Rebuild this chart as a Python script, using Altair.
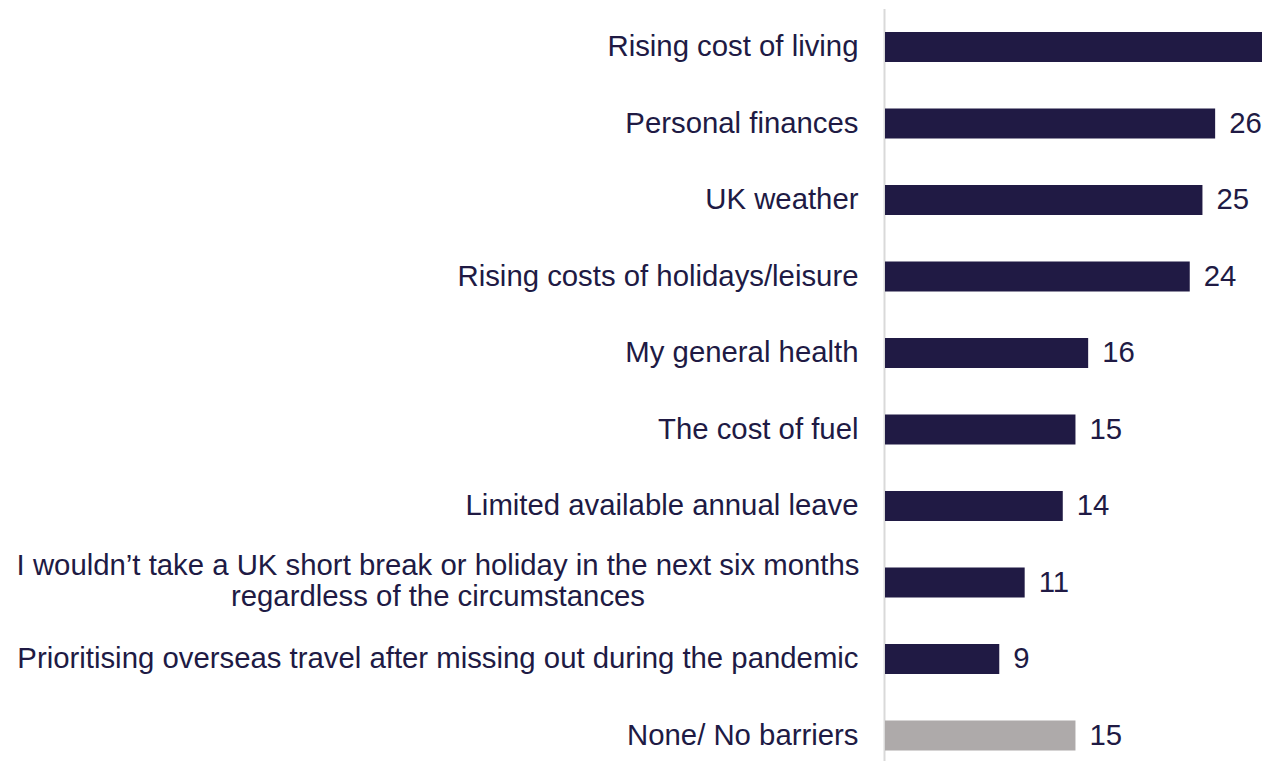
import altair as alt
import pandas as pd

categories = [
    "Rising cost of living",
    "Personal finances",
    "UK weather",
    "Rising costs of holidays/leisure",
    "My general health",
    "The cost of fuel",
    "Limited available annual leave",
    "I wouldn’t take a UK short break or holiday in the next six months|regardless of the circumstances",
    "Prioritising overseas travel after missing out during the pandemic",
    "None/ No barriers",
]
values = [32, 26, 25, 24, 16, 15, 14, 11, 9, 15]

df = pd.DataFrame({"category": categories, "value": values})

NAVY = "#201a44"
GREY = "#aeaaaa"
FONT = "Liberation Sans"
W, H = 377, 752
XMAX = 29.69

multi_test = "indexof(datum.value, '|') >= 0"

y_enc = alt.Y(
    "category:N",
    sort=categories,
    title=None,
    scale=alt.Scale(paddingInner=0.608, paddingOuter=0.219, align=0.687, round=False),
    axis=alt.Axis(
        domain=False,
        ticks=False,
        tickSize=0,
        grid=False,
        labelFont=FONT,
        labelFontSize=29.33,
        labelColor=NAVY,
        labelLimit=2000,
        labelLineHeight=31,
        labelExpr="split(datum.label, '|')",
        labelAlign={"condition": {"test": multi_test, "value": "center"}, "value": "right"},
        labelPadding={"condition": {"test": multi_test, "value": 447.5}, "value": 27},
        labelOffset={"condition": {"test": multi_test, "value": -17}, "value": 0},
        labelOverlap=False,
    ),
)
x_enc = alt.X(
    "value:Q",
    scale=alt.Scale(domain=[0, XMAX], clamp=True, nice=False, zero=True),
    axis=None,
)

rule = alt.Chart(pd.DataFrame({"k": [0]})).mark_rule(color="#d9d9d9", strokeWidth=2).encode(
    x=alt.value(-0.5), y=alt.value(0), y2=alt.value(H + 8)
)

bars = alt.Chart(df).mark_bar().encode(
    x=x_enc,
    y=y_enc,
    color=alt.condition(alt.datum.category == "None/ No barriers", alt.value(GREY), alt.value(NAVY)),
)

labels = alt.Chart(df).transform_filter(f"datum.value <= {XMAX}").mark_text(
    align="left", baseline="middle", dx=14, font=FONT, fontSize=29.33, color=NAVY
).encode(x=x_enc, y=y_enc, text="value:Q")

chart = alt.layer(rule, bars, labels).properties(
    width=W,
    height=H,
    autosize=alt.AutoSizeParams(type="none"),
    padding={"left": 877, "top": 1, "right": 0, "bottom": 0},
).configure_view(stroke=None)

chart.save("out.html", embed_options={"renderer": "svg", "actions": False})
